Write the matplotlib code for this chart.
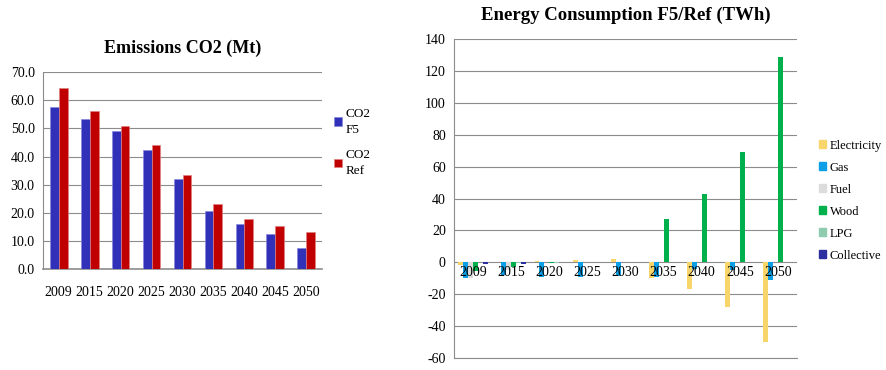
# emissions and energy consumption, F5 scenario vs reference
import numpy as np
import matplotlib.pyplot as plt
from matplotlib.patches import Patch

plt.rcParams['font.family'] = ['Liberation Serif', 'DejaVu Serif']
plt.rcParams['axes.unicode_minus'] = False

years = ['2009', '2015', '2020', '2025', '2030', '2035', '2040', '2045', '2050']

# CO2 emissions (Mt)
co2_f5 = [57.7, 53.3, 49.0, 42.4, 32.1, 20.8, 16.0, 12.5, 7.6]
co2_ref = [64.3, 56.3, 50.9, 44.0, 33.5, 23.2, 17.8, 15.3, 13.3]

# energy consumption difference F5 - Ref (TWh)
electricity = [-2, 0, 1, 1.5, 2, -10, -17, -28, -50]
gas = [-10, -8, -9, -9, -8.5, -9, -4, -5, -11]
fuel = [-10, -5, 0, 0, 0, 0, 0, 0, 0]
wood = [-5.5, -3, -0.7, 0, 0, 27, 43, 69, 129]
lpg = [0, -0.5, -0.3, 0, 0, 0, 0, 0, 0]
collective = [-1, -1, 0, 0, 0, 0, 0, 0, 0]

energy_names = ['Electricity', 'Gas', 'Fuel', 'Wood', 'LPG', 'Collective']
energy_cols = ['#F7D56B', '#0A9FE6', '#DCDCDC', '#00B04C', '#8FCBAF', '#2B2FA0']
energy = [electricity, gas, fuel, wood, lpg, collective]

grid_col = '#8C8C8C'

fig = plt.figure(figsize=(8.87, 3.70), dpi=100)

# ---- left: CO2 ----
ax1 = fig.add_axes([0.0485, 0.273, 0.3145, 0.532])
x = np.arange(len(years))
w = 0.29
ax1.bar(x - w / 2, co2_f5, w, color='#3030B8', edgecolor='#8888DD', linewidth=0.5, label='CO2\nF5', zorder=3)
ax1.bar(x + w / 2, co2_ref, w, color='#C00000', edgecolor='#E08080', linewidth=0.5, label='CO2\nRef', zorder=3)
ax1.set_xlim(-0.5, len(years) - 0.5)
ax1.set_ylim(0, 70)
ax1.set_yticks(np.arange(0, 71, 10))
ax1.set_yticklabels(['%.1f' % v for v in np.arange(0, 71, 10)], fontsize=10)
ax1.set_xticks(x)
ax1.set_xticklabels(years, fontsize=10)
ax1.tick_params(length=0, pad=6)
ax1.tick_params(axis='x', pad=12)
ax1.yaxis.grid(True, color=grid_col, linewidth=0.8, zorder=0)
for s in ['top', 'right']:
    ax1.spines[s].set_visible(False)
for s in ['left', 'bottom']:
    ax1.spines[s].set_color(grid_col)
ax1.spines['bottom'].set_linewidth(1.2)
ax1.set_title('Emissions CO2 (Mt)', fontsize=13, fontweight='bold', pad=14)
leg1 = ax1.legend(loc='upper left', bbox_to_anchor=(1.0, 0.88), frameon=False, fontsize=9.5,
                  handlelength=0.6, handleheight=0.6, handletextpad=0.3, labelspacing=1.0)
for t in leg1.get_texts():
    t.set_linespacing(1.45)

# ---- right: energy consumption ----
ax2 = fig.add_axes([0.512, 0.0324, 0.3865, 0.8622])
bw = 0.13
for k, (vals, name, col) in enumerate(zip(energy, energy_names, energy_cols)):
    ax2.bar(x + (k - 2.5) * bw, vals, bw, color=col, label=name, zorder=3)
ax2.set_xlim(-0.5, len(years) - 0.5)
ax2.set_ylim(-60, 140)
ax2.set_yticks(np.arange(-60, 141, 20))
ax2.tick_params(axis='y', labelsize=10, length=0, pad=6)
ax2.set_xticks([])
for i, yr in enumerate(years):
    ax2.text(i, -2.5, yr, ha='center', va='top', fontsize=10, zorder=4)
ax2.yaxis.grid(True, color=grid_col, linewidth=0.8, zorder=0)
for s in ['top', 'right']:
    ax2.spines[s].set_visible(False)
for s in ['left', 'bottom']:
    ax2.spines[s].set_color(grid_col)
ax2.set_title('Energy Consumption F5/Ref (TWh)', fontsize=13.5, fontweight='bold', pad=14)
handles = [Patch(color=c, label=n) for n, c in zip(energy_names, energy_cols)]
ax2.legend(handles=handles, loc='upper left', bbox_to_anchor=(1.03, 0.72), frameon=False,
           fontsize=9, handlelength=0.6, handleheight=0.6, handletextpad=0.3, labelspacing=0.8)

fig.savefig('out.png', dpi=100)
